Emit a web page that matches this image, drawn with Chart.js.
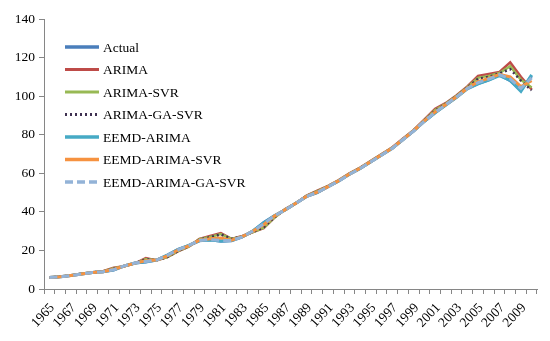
<!DOCTYPE html>
<html>
<head>
<meta charset="utf-8">
<script src="https://cdn.jsdelivr.net/npm/chart.js@4"></script>
<style>
html,body{margin:0;padding:0;background:#fff;}
#wrap{width:550px;height:341px;}
</style>
</head>
<body>
<div id="wrap"><canvas id="c" width="550" height="341"></canvas></div>
<script>
const years = [];
for (let y = 1965; y <= 2010; y++) years.push(String(y));

const actual = [6.0, 6.3, 7.0, 7.8, 8.5, 9.0, 9.8, 12.0, 13.5, 14.0, 15.0, 17.5, 20.5, 22.5, 25.0, 25.5, 24.8, 25.0, 27.0, 30.0, 34.5, 38.0, 41.0, 44.5, 48.0, 50.0, 53.0, 56.0, 59.5, 62.5, 66.0, 69.5, 73.0, 77.5, 82.0, 87.0, 91.5, 95.5, 99.5, 104.0, 106.5, 108.5, 111.0, 108.0, 103.0, 110.5];
const arima = [6.0, 6.4, 7.0, 7.9, 8.6, 9.2, 11.0, 11.8, 13.3, 16.0, 14.8, 16.5, 19.5, 22.0, 26.0, 27.5, 29.0, 26.0, 27.5, 29.5, 31.5, 37.0, 41.5, 44.5, 48.5, 51.0, 53.5, 56.5, 60.0, 63.0, 66.5, 70.0, 73.5, 78.0, 82.5, 88.0, 93.5, 96.5, 100.5, 105.0, 110.5, 111.5, 112.5, 117.5, 110.0, 103.5];
const arimaSvr = [6.0, 6.4, 7.0, 7.9, 8.6, 9.1, 10.8, 11.8, 13.3, 15.6, 14.9, 16.5, 19.6, 22.0, 25.8, 27.0, 28.5, 26.0, 27.3, 29.5, 31.8, 37.0, 41.3, 44.5, 48.3, 50.8, 53.3, 56.3, 59.8, 62.8, 66.3, 69.8, 73.3, 77.8, 82.3, 87.6, 92.8, 96.2, 100.2, 104.6, 109.5, 110.5, 112.0, 115.5, 108.5, 104.5];
const arimaGaSvr = [6.0, 6.4, 7.0, 7.9, 8.6, 9.1, 10.6, 11.9, 13.4, 15.4, 15.0, 16.6, 19.7, 22.1, 25.6, 26.8, 28.3, 26.0, 27.2, 29.6, 32.0, 37.2, 41.2, 44.5, 48.2, 50.6, 53.2, 56.2, 59.7, 62.7, 66.2, 69.7, 73.2, 77.7, 82.2, 87.4, 92.4, 96.0, 100.0, 104.4, 109.0, 110.0, 111.8, 114.0, 108.0, 103.0];
const eemdArima = [6.0, 6.3, 7.0, 7.8, 8.5, 9.0, 9.9, 12.0, 13.5, 14.1, 15.0, 17.6, 20.4, 22.6, 25.1, 25.4, 24.9, 25.1, 27.0, 30.2, 34.2, 38.0, 41.0, 44.5, 48.0, 50.1, 53.0, 56.0, 59.5, 62.5, 66.0, 69.5, 73.0, 77.5, 82.0, 87.0, 91.4, 95.4, 99.4, 103.8, 106.4, 108.3, 110.6, 108.2, 102.5, 111.0];
const eemdArimaSvr = [6.0, 6.3, 7.0, 7.8, 8.5, 9.0, 10.2, 11.9, 13.4, 14.6, 15.0, 17.2, 20.2, 22.4, 25.3, 26.0, 26.5, 25.3, 27.1, 30.0, 33.3, 37.8, 41.1, 44.5, 48.1, 50.2, 53.1, 56.1, 59.6, 62.6, 66.1, 69.6, 73.1, 77.6, 82.1, 87.2, 91.8, 95.7, 99.7, 104.1, 107.5, 109.2, 111.3, 110.0, 105.0, 108.0];
const eemdArimaGaSvr = [6.0, 6.3, 7.0, 7.8, 8.5, 9.0, 10.0, 12.0, 13.5, 14.3, 15.0, 17.4, 20.3, 22.5, 25.2, 25.6, 25.2, 25.2, 27.0, 30.1, 33.8, 37.9, 41.0, 44.5, 48.0, 50.1, 53.0, 56.0, 59.5, 62.5, 66.0, 69.5, 73.0, 77.5, 82.0, 87.1, 91.6, 95.6, 99.6, 104.0, 107.0, 108.8, 111.1, 109.0, 104.0, 109.5];

const seriesNames = ['Actual', 'ARIMA', 'ARIMA-SVR', 'ARIMA-GA-SVR', 'EEMD-ARIMA', 'EEMD-ARIMA-SVR', 'EEMD-ARIMA-GA-SVR'];
const seriesData = [actual, arima, arimaSvr, arimaGaSvr, eemdArima, eemdArimaSvr, eemdArimaGaSvr];
const yTicks = [0, 20, 40, 60, 80, 100, 120, 140];

const styles = [
  {color: '#4A7EBB', width: 3, dash: []},
  {color: '#BE4B48', width: 2.5, dash: []},
  {color: '#98B954', width: 2.5, dash: []},
  {color: '#3F3151', width: 2.5, dash: [2, 3]},
  {color: '#46AAC5', width: 3, dash: []},
  {color: '#F69240', width: 3, dash: []},
  {color: '#93B3D7', width: 3, dash: [8, 4]}
];

const FONT = '"Liberation Serif", "Times New Roman", serif';

const datasets = seriesNames.map((name, i) => ({
  label: name,
  data: seriesData[i],
  borderColor: styles[i].color,
  backgroundColor: styles[i].color,
  borderWidth: styles[i].width,
  borderDash: styles[i].dash,
  pointRadius: 0,
  tension: 0,
  fill: false,
  order: seriesNames.length - i
}));

const legendPlugin = {
  id: 'insideLegend',
  afterDraw(chart) {
    const ctx = chart.ctx;
    ctx.save();
    ctx.font = '13.5px ' + FONT;
    ctx.textBaseline = 'middle';
    ctx.fillStyle = '#000';
    chart.data.datasets.forEach((ds, i) => {
      const y = 47 + i * 22.5;
      ctx.beginPath();
      ctx.strokeStyle = ds.borderColor;
      ctx.lineWidth = ds.borderWidth + 0.5;
      ctx.setLineDash(ds.borderDash || []);
      ctx.moveTo(65, y);
      ctx.lineTo(99, y);
      ctx.stroke();
      ctx.setLineDash([]);
      ctx.fillText(ds.label, 103, y + 1);
    });
    ctx.restore();
  }
};

new Chart(document.getElementById('c'), {
  type: 'line',
  data: { labels: years, datasets: datasets },
  options: {
    responsive: false,
    devicePixelRatio: 1,
    animation: false,
    layout: { padding: { top: 19, right: 13, left: 0, bottom: 0 } },
    plugins: { legend: { display: false }, tooltip: { enabled: false } },
    scales: {
      x: {
        type: 'category',
        offset: true,
        grid: { offset: true, drawOnChartArea: false, drawTicks: true, tickLength: 5, color: '#868686', lineWidth: 1 },
        border: { color: '#868686', width: 1 },
        ticks: {
          autoSkip: false,
          maxRotation: 47,
          minRotation: 47,
          padding: 6,
          labelOffset: 3,
          color: '#000',
          font: { family: FONT, size: 13.5 },
          callback: function (v, i) { return i % 2 === 0 ? years[i] : ''; }
        },
        afterFit(scale) { scale.height = 52; }
      },
      y: {
        min: 0,
        max: 140,
        afterBuildTicks(scale) { scale.ticks = yTicks.map(v => ({ value: v })); },
        grid: { drawOnChartArea: false, drawTicks: true, tickLength: 5, color: '#868686' },
        border: { color: '#868686', width: 1 },
        ticks: {
          color: '#000',
          padding: 4,
          font: { family: FONT, size: 13.5 }
        },
        afterFit(scale) { scale.width = 44; }
      }
    }
  },
  plugins: [legendPlugin]
});
</script>
</body>
</html>
